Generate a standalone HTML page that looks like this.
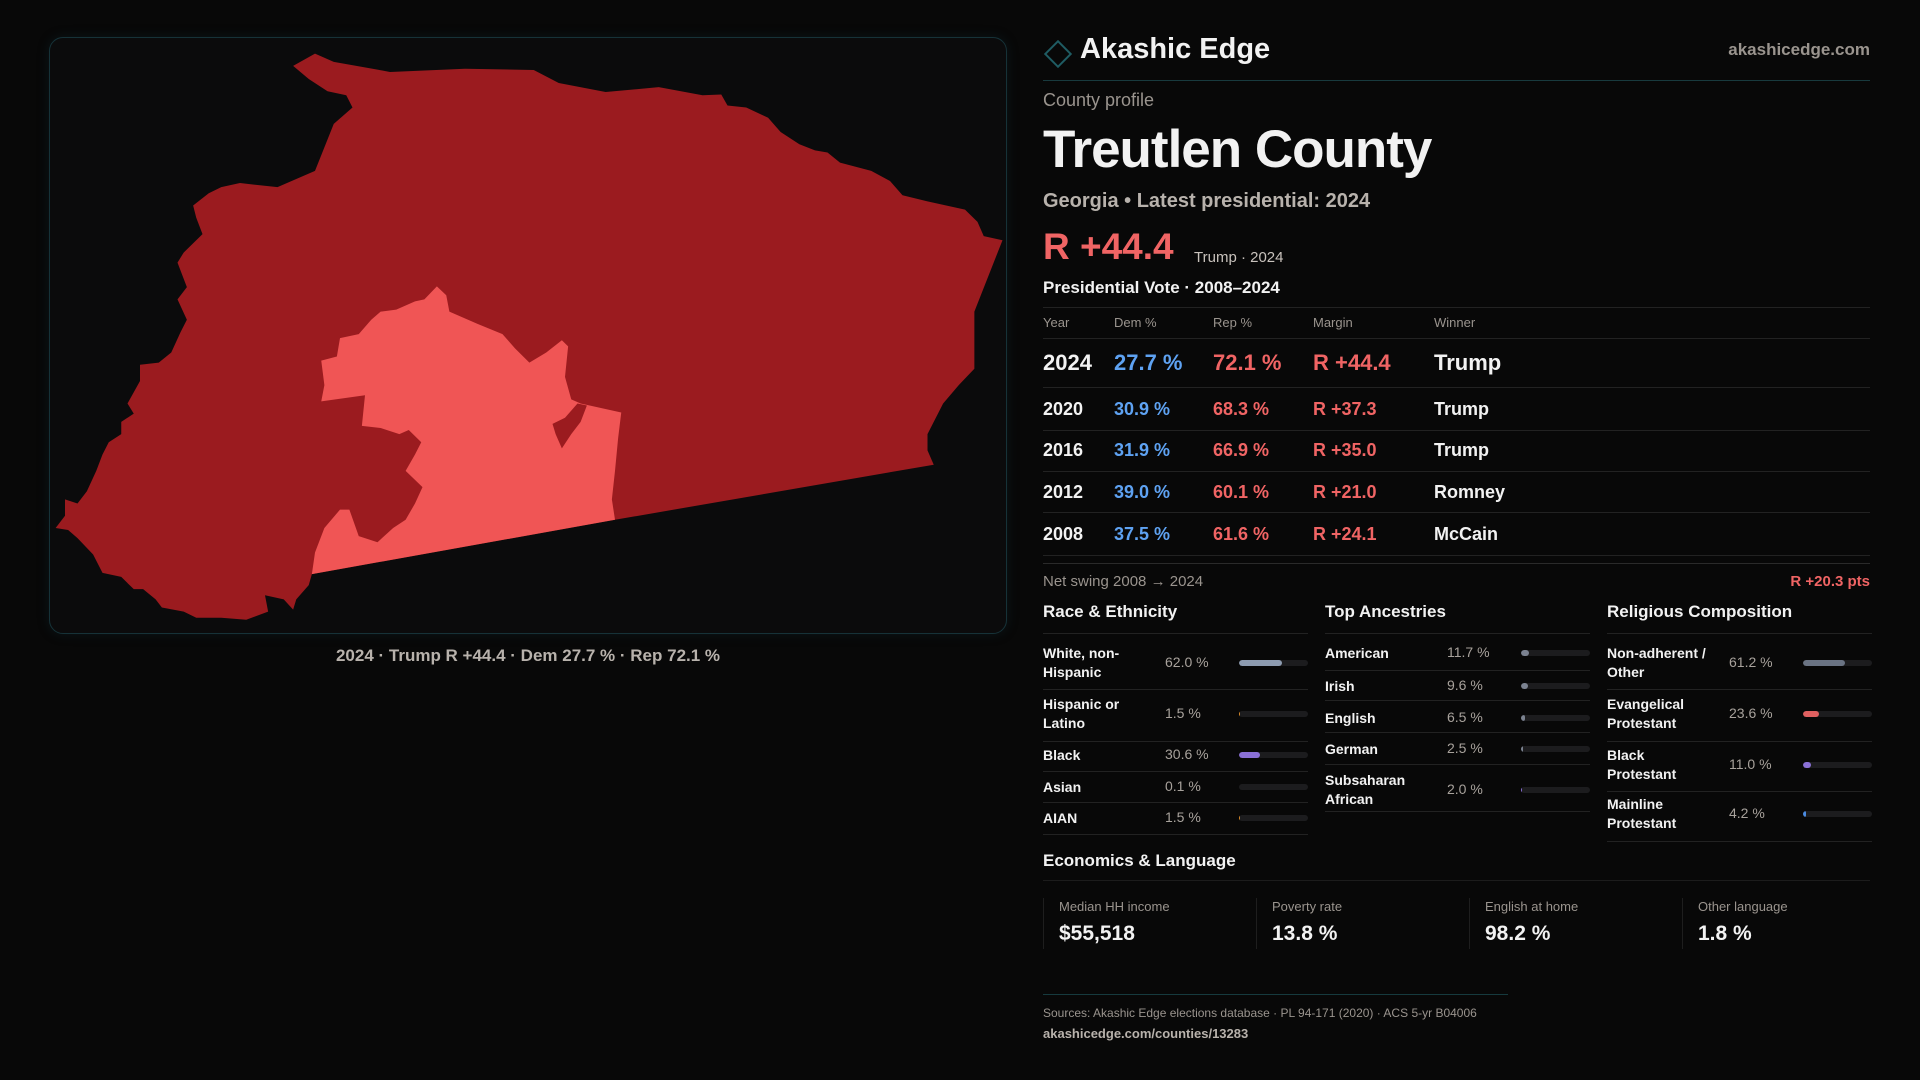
<!DOCTYPE html>
<html><head><meta charset="utf-8"><style>
*{box-sizing:border-box;margin:0;padding:0}
body{width:1920px;height:1080px;background:#080808;font-family:"Liberation Sans",sans-serif;color:#f2f2f2;position:relative;overflow:hidden}
.a{position:absolute;white-space:nowrap}
.panel{position:absolute;left:49px;top:37px;width:958px;height:597px;border:1px solid #163238;border-radius:14px;background:#0b0b0c;box-shadow:0 0 12px rgba(20,60,70,.25)}
.hl{position:absolute;height:1px;background:#222}
.lab{color:#9a948e}
.red{color:#f06464}.blue{color:#5ea2f2}
.track{position:absolute;height:6px;border-radius:3px;background:#1c1c1e;overflow:hidden}
.fill{height:100%;border-radius:3px}
</style></head><body>
<div class="panel"></div>
<svg class="a" style="left:0;top:0" width="1920" height="1080">
<g transform="translate(40,30) scale(0.625,0.40816)">
<path fill="#9b1b1f" d="M405,88 L440,58 L470,78 L540,97 L560,103 L680,95 L790,98 L830,130 L905,152 L990,140 L1060,160 L1090,158 L1100,185 L1130,190 L1165,215 L1185,250 L1215,280 L1240,295 L1260,300 L1280,325 L1330,345 L1360,370 L1380,405 L1420,420 L1480,440 L1500,470 L1510,505 L1540,515 L1495,690 L1495,830 L1470,870 L1445,915 L1420,990 L1420,1030 L1430,1065 L920,1200 L435,1333 L430,1360 L410,1395 L405,1420 L390,1395 L360,1385 L365,1425 L330,1445 L290,1440 L250,1440 L230,1425 L195,1415 L185,1395 L165,1370 L150,1370 L130,1340 L100,1330 L85,1285 L60,1245 L45,1225 L25,1220 L40,1190 L40,1150 L60,1160 L75,1130 L90,1080 L100,1040 L110,1010 L130,990 L130,960 L150,940 L140,915 L160,860 L160,820 L190,815 L210,790 L225,740 L235,710 L220,660 L235,630 L220,570 L230,545 L260,500 L250,460 L245,430 L270,400 L290,385 L320,375 L350,380 L380,385 L440,345 L470,230 L500,190 L490,160 L460,150 L430,120 Z"/>
<path fill="#f05555" d="M450,910 L455,870 L450,810 L475,800 L480,755 L510,745 L530,710 L545,690 L570,685 L600,665 L615,660 L635,628 L650,650 L655,690 L700,720 L740,745 L760,780 L783,815 L810,790 L835,760 L845,775 L840,850 L850,905 L865,915 L930,937 L925,1000 L920,1080 L915,1150 L920,1200 L435,1333 L440,1280 L455,1220 L480,1175 L495,1175 L510,1240 L540,1255 L565,1220 L585,1200 L600,1160 L612,1120 L585,1080 L600,1040 L610,1010 L590,980 L575,990 L545,975 L515,970 L520,895 Z"/>
<path fill="#9b1b1f" d="M860,915 L875,920 L865,960 L850,990 L835,1025 L825,990 L820,965 L840,950 Z"/>
</g></svg>
<div class="a" style="left:0;width:1056px;text-align:center;top:646px;font-size:17px;font-weight:bold;color:#b8b2ac">2024 · Trump R +44.4 · Dem 27.7 % · Rep 72.1 %</div>

<div class="a" style="left:1048px;top:44px;width:20px;height:20px;border:2px solid #1f5c63;transform:rotate(45deg)"></div>
<div class="a" style="left:1080px;top:33px;font-size:29px;font-weight:bold">Akashic Edge</div>
<div class="a lab" style="right:50px;top:40px;font-size:17px;font-weight:bold">akashicedge.com</div>
<div class="hl" style="left:1043px;width:827px;top:80px;background:#183a3e"></div>
<div class="a lab" style="left:1043px;top:90px;font-size:18px">County profile</div>
<div class="a" style="left:1043px;top:119px;font-size:53px;font-weight:bold;letter-spacing:-1px">Treutlen County</div>
<div class="a" style="left:1043px;top:190px;font-size:20px;font-weight:bold;color:#b8b2ac">Georgia • Latest presidential: 2024</div>
<div class="a red" style="left:1043px;top:226px;font-size:37px;font-weight:bold">R +44.4</div>
<div class="a" style="left:1194px;top:249px;font-size:15px;color:#c8c2bc">Trump · 2024</div>
<div class="a" style="left:1043px;top:278px;font-size:17px;font-weight:bold">Presidential Vote · 2008–2024</div>
<div class="hl" style="left:1043px;width:827px;top:307px"></div>
<div id="tbl"></div>
<div class="hl" style="left:1043px;width:827px;top:563px;background:#2a2a2a"></div>
<div class="a lab" style="left:1043px;top:573px;font-size:15px">Net swing 2008 → 2024</div>
<div class="a red" style="right:50px;top:573px;font-size:15px;font-weight:bold">R +20.3 pts</div>
<div id="demo"></div>
<div class="a" style="left:1043px;top:851px;font-size:17px;font-weight:bold">Economics &amp; Language</div>
<div class="hl" style="left:1043px;width:827px;top:880px;background:#1c1c1c"></div>
<div id="econ"></div>
<div class="hl" style="left:1043px;width:465px;top:994px;background:#163a3e"></div>
<div class="a lab" style="left:1043px;top:1006px;font-size:12px">Sources: Akashic Edge elections database · PL 94-171 (2020) · ACS 5-yr B04006</div>
<div class="a" style="left:1043px;top:1026px;font-size:13px;font-weight:bold;color:#b8b2ac">akashicedge.com/counties/13283</div>

<script>
const years=["2024","2020","2016","2012","2008"];
const demPct=[27.7,30.9,31.9,39.0,37.5];
const repPct=[72.1,68.3,66.9,60.1,61.6];
const margins=[44.4,37.3,35.0,21.0,24.1];
const winners=["Trump","Trump","Trump","Romney","McCain"];
const raceLabels=["White, non-<br>Hispanic","Hispanic or<br>Latino","Black","Asian","AIAN"];
const raceValues=[62.0,1.5,30.6,0.1,1.5];
const ancLabels=["American","Irish","English","German","Subsaharan<br>African"];
const ancValues=[11.7,9.6,6.5,2.5,2.0];
const relLabels=["Non-adherent /<br>Other","Evangelical<br>Protestant","Black<br>Protestant","Mainline<br>Protestant"];
const relValues=[61.2,23.6,11.0,4.2];
const econLabels=["Median HH income","Poverty rate","English at home","Other language"];
const econValues=["$55,518","13.8 %","98.2 %","1.8 %"];

function mk(parent,html,css,name,inter){const d=document.createElement('div');d.className='a';d.innerHTML=html;d.style.cssText=css;


parent.appendChild(d);return d;}
const T=document.getElementById('tbl');
const cols=[1043,1114,1213,1313,1434];
["Year","Dem %","Rep %","Margin","Winner"].forEach((h,i)=>mk(T,h,`left:${cols[i]}px;top:315px;font-size:13px;color:#9a948e`,'table-header',false));
const hl=y=>{const d=document.createElement('div');d.className='hl';d.style.cssText=`left:1043px;width:827px;top:${y}px`;T.appendChild(d);};
hl(338);
const rowY=[350,398,439,481,523],lineY=[387,430,471,512,555];
years.forEach((y,i)=>{const fs=i==0?22:18,t=rowY[i]+(i==0?0:1);
mk(T,y,`left:${cols[0]}px;top:${t}px;font-size:${fs}px;font-weight:bold`,'year-'+y,false);
mk(T,demPct[i].toFixed(1)+' %',`left:${cols[1]}px;top:${t}px;font-size:${fs}px;font-weight:bold;color:#5ea2f2`,'dem-'+y,false);
mk(T,repPct[i].toFixed(1)+' %',`left:${cols[2]}px;top:${t}px;font-size:${fs}px;font-weight:bold;color:#f06464`,'rep-'+y,false);
mk(T,'R +'+margins[i].toFixed(1),`left:${cols[3]}px;top:${t}px;font-size:${fs}px;font-weight:bold;color:#f06464`,'margin-'+y,false);
mk(T,winners[i],`left:${cols[4]}px;top:${t}px;font-size:${fs}px;font-weight:bold`,'winner-'+y,false);
hl(lineY[i]);});

const D=document.getElementById('demo');
function section(x,title,labels,vals,ys,lines,colors,key){
 mk(D,title,`left:${x}px;top:602px;font-size:17px;font-weight:bold`,key+'-header',false);
 const l0=document.createElement('div');l0.className='hl';l0.style.cssText=`left:${x}px;width:265px;top:633px`;D.appendChild(l0);
 labels.forEach((lb,i)=>{const two=lb.includes('<br>');
  mk(D,lb,`left:${x}px;top:${ys[i]-(two?19:9)}px;font-size:14px;font-weight:bold;line-height:19px`,key+'-label',false);
  mk(D,vals[i].toFixed(1)+' %',`left:${x+122}px;top:${ys[i]-9}px;font-size:14px;color:#a8a29c`,key+'-value',false);
  const tr=document.createElement('div');tr.className='track';tr.style.cssText=`left:${x+196}px;top:${ys[i]-3}px;width:69px`;
  
  
  const f=document.createElement('div');f.className='fill';f.style.width=Math.max(vals[i],vals[i]>0.5?2:0)+'%';f.style.background=colors[i];tr.appendChild(f);D.appendChild(tr);
  const l=document.createElement('div');l.className='hl';l.style.cssText=`left:${x}px;width:265px;top:${lines[i]}px`;D.appendChild(l);});
}
section(1043,"Race &amp; Ethnicity",raceLabels,raceValues,[663,714,755,787,818],[689,741,771,802,834],["#8d9bb0","#d98a2a","#8a70d6","#555","#d98a2a"],'race');
section(1325,"Top Ancestries",ancLabels,ancValues,[653,686,718,749,790],[670,700,732,764,811],["#7b8290","#7b8290","#7b8290","#7b8290","#8a70d6"],'ancestry');
section(1607,"Religious Composition",relLabels,relValues,[663,714,765,814],[689,741,791,841],["#6a7383","#e06060","#8a70d6","#4a8ae0"],'religion');

const E=document.getElementById('econ');
[1043,1256,1469,1682].forEach((x,i)=>{
 const b=document.createElement('div');b.className='a';b.style.cssText=`left:${x}px;top:898px;width:1px;height:51px;background:#1e1e1e`;E.appendChild(b);
 mk(E,econLabels[i],`left:${x+16}px;top:899px;font-size:13px;color:#9a948e`,'econ-label',false);
 mk(E,econValues[i],`left:${x+16}px;top:922px;font-size:21px;font-weight:bold`,'econ-value',false);});
</script>
</body></html>
